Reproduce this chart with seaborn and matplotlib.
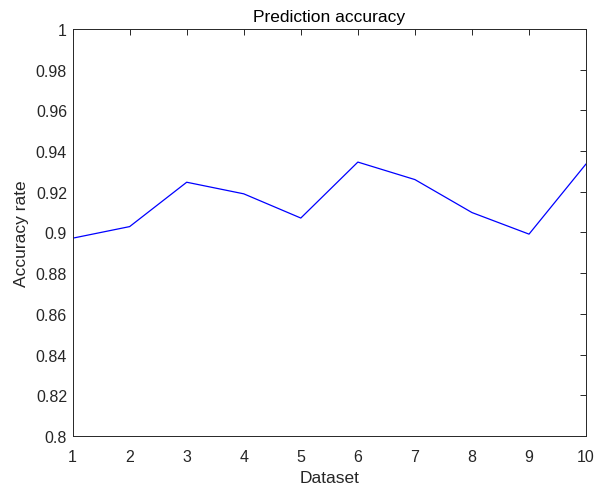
import matplotlib
matplotlib.use("Agg")
import matplotlib.pyplot as plt
import seaborn as sns
import numpy as np

datasets = [1, 2, 3, 4, 5, 6, 7, 8, 9, 10]
accuracy = [0.8972, 0.9029, 0.9247, 0.919, 0.9071, 0.9346, 0.926, 0.9098, 0.8992, 0.9337]
y_ticks = [0.8, 0.82, 0.84, 0.86, 0.88, 0.9, 0.92, 0.94, 0.96, 0.98, 1.0]
y_labels = ["0.8", "0.82", "0.84", "0.86", "0.88", "0.9", "0.92", "0.94", "0.96", "0.98", "1"]

sns.set_style("white")
plt.rcParams['font.family'] = ['Liberation Sans', 'DejaVu Sans']

fig = plt.figure(figsize=(5.95, 4.89), dpi=100)
ax = fig.add_axes([0.122, 0.1063, 0.863, 0.8324])
sns.lineplot(x=datasets, y=accuracy, ax=ax, color="#0000ff", linewidth=0.9)

ax.set_xlim(1, 10)
ax.set_ylim(0.8, 1.0)
ax.set_xticks(datasets)
ax.set_yticks(y_ticks)
ax.set_yticklabels(y_labels)
ax.tick_params(direction="in", top=True, right=True, length=4, width=0.7,
               labelsize=11.5, colors="#262626")
ax.tick_params(axis="x", pad=9)
ax.tick_params(axis="y", pad=4)
for s in ax.spines.values():
    s.set_color("#262626")
    s.set_linewidth(0.7)

ax.set_title("Prediction accuracy", fontsize=12.5, color="#000000", pad=6)
ax.set_xlabel("Dataset", fontsize=12.5, color="#262626", labelpad=5)
ax.set_ylabel("Accuracy rate", fontsize=12.5, color="#262626", labelpad=5)

fig.savefig("out.png", dpi=100, facecolor="white")
plt.close(fig)
